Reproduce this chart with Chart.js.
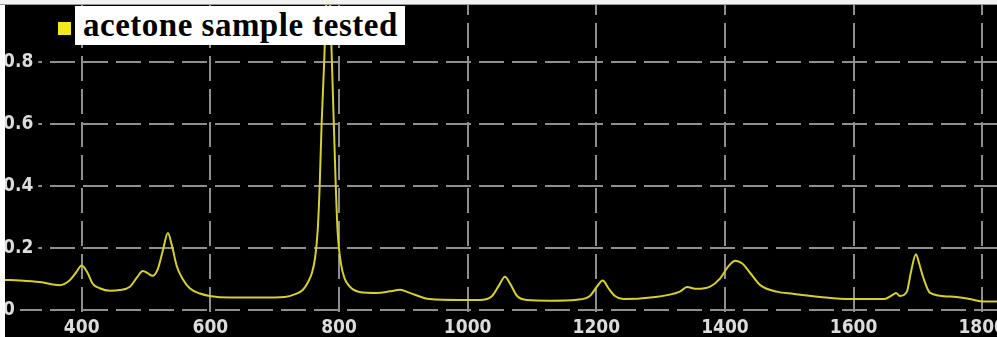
<!DOCTYPE html>
<html>
<head>
<meta charset="utf-8">
<script src="https://cdn.jsdelivr.net/npm/chart.js@4"></script>
<style>
  html, body { margin: 0; padding: 0; background: #000; overflow: hidden; }
  #wrap { position: relative; width: 997px; height: 337px; }
  #frameLeft { position: absolute; left: 0; top: 0; width: 5px; height: 337px; background: #fff; }
  #frameTop  { position: absolute; left: 0; top: 0; width: 997px; height: 4px; background: #f2f2f2; border-bottom: 1px solid #9a9a9a; }
  #legend {
    position: absolute; left: 75px; top: 6px; width: 330px; height: 39px;
    background: #fff; box-sizing: border-box; padding-left: 8px;
    font: bold 33px "Liberation Serif", "DejaVu Serif", serif; letter-spacing: 0.5px;
    color: #000; line-height: 39px; white-space: nowrap;
  }
  #legendSwatch { position: absolute; left: 58px; top: 22px; width: 13px; height: 13px; background: #f4e81a; }
</style>
</head>
<body>
<div id="wrap">
  <canvas id="chart" width="997" height="337"></canvas>
  <div id="frameLeft"></div>
  <div id="frameTop"></div>
  <div id="legendSwatch"></div>
  <div id="legend">acetone sample tested</div>
</div>
<script>
// ── Data ────────────────────────────────────────────────────────────────────
const wavenumbers = [
  280, 304, 335, 366, 381, 391, 400, 409, 417, 428, 444, 459, 475, 486, 495, 503,
  510, 518, 526, 534, 540, 548, 557, 568, 584, 599, 630, 677, 716, 731, 744, 752,
  758, 763, 767, 770, 773, 777, 780, 783, 786, 789, 792, 795, 798, 803, 809, 817, 832,
  859, 879, 895, 910, 941, 988, 1019, 1038, 1049, 1058, 1066, 1077, 1092, 1128, 1170, 1190,
  1201, 1210, 1219, 1229, 1242, 1284, 1330, 1341, 1356, 1377, 1392, 1405, 1416, 1427, 1439, 1455,
  1481, 1506, 1548, 1595, 1646, 1662, 1666, 1672, 1683, 1689, 1697, 1702, 1708, 1719, 1750, 1781,
  1802, 1823
];
const intensity = [
  0.097, 0.095, 0.090, 0.080, 0.095, 0.120, 0.143, 0.120, 0.085, 0.070, 0.062, 0.064, 0.075, 0.105, 0.126, 0.118,
  0.110, 0.130, 0.190, 0.248, 0.210, 0.140, 0.100, 0.070, 0.053, 0.045, 0.040, 0.040, 0.042, 0.050, 0.065, 0.090,
  0.120, 0.170, 0.260, 0.400, 0.600, 0.800, 0.980, 1.080, 1.000, 0.800, 0.600, 0.400, 0.250, 0.150, 0.100, 0.075, 0.058,
  0.055, 0.060, 0.065, 0.055, 0.035, 0.032, 0.032, 0.045, 0.080, 0.107, 0.085, 0.045, 0.032, 0.030, 0.033, 0.045,
  0.075, 0.095, 0.070, 0.045, 0.035, 0.040, 0.059, 0.074, 0.068, 0.075, 0.100, 0.140, 0.159, 0.150, 0.120, 0.080,
  0.059, 0.052, 0.042, 0.035, 0.035, 0.050, 0.055, 0.045, 0.060, 0.120, 0.180, 0.150, 0.107, 0.055, 0.043, 0.035,
  0.027, 0.027
];
const xTicks = [400, 600, 800, 1000, 1200, 1400, 1600, 1800];
const yTicks = [0, 0.2, 0.4, 0.6, 0.8, 1];

// ── Style ───────────────────────────────────────────────────────────────────
const LINE_COLOR = '#d4d030';
const GRID_COLOR = '#8e8e8e';
const TICK_FONT  = { family: '"Liberation Sans Narrow", "DejaVu Sans Condensed", "Liberation Sans", sans-serif', size: 19, weight: 'bold', lineHeight: 1 };

new Chart(document.getElementById('chart'), {
  type: 'line',
  data: {
    datasets: [{
      label: 'acetone sample tested',
      data: wavenumbers.map((x, i) => ({ x, y: intensity[i] })),
      borderColor: LINE_COLOR,
      borderWidth: 2,
      pointRadius: 0,
      cubicInterpolationMode: 'monotone',
      fill: false,
    }],
  },
  options: {
    responsive: false,
    animation: false,
    layout: { padding: 0 },
    plugins: { legend: { display: false }, tooltip: { enabled: false } },
    scales: {
      x: {
        type: 'linear',
        min: 273,
        max: 1823,
        afterBuildTicks: s => { s.ticks = xTicks.map(v => ({ value: v })); },
        afterFit: s => { s.height = 19; s.paddingLeft = 0; s.paddingRight = 0; },
        grid: { color: GRID_COLOR, lineWidth: 2, drawTicks: false },
        border: { display: false, dash: [25, 8], dashOffset: 10 },
        ticks: { color: '#dcdcdc', font: TICK_FONT, padding: 1, autoSkip: false, maxRotation: 0, callback: v => String(v) },
      },
      y: {
        min: -0.026,
        max: 1,
        afterBuildTicks: s => { s.ticks = yTicks.map(v => ({ value: v })); },
        afterFit: s => { s.width = 0; s.paddingTop = 0; s.paddingBottom = 0; },
        grid: { color: GRID_COLOR, lineWidth: 2, drawTicks: false },
        border: { display: false, dash: [25, 8], dashOffset: 16 },
        ticks: {
          color: '#dcdcdc', font: TICK_FONT, mirror: true, crossAlign: 'near', padding: 3,
          callback: v => String(v),
          showLabelBackdrop: true, backdropColor: '#000', backdropPadding: { left: 0, right: 5, top: 0, bottom: 0 },
        },
      },
    },
  },
});
</script>
</body>
</html>
